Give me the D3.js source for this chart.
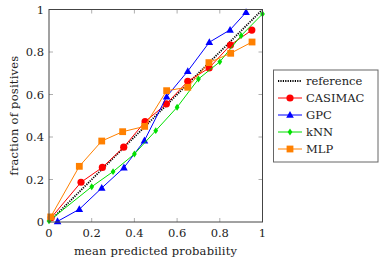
<!DOCTYPE html>
<html>
<head>
<meta charset="utf-8">
<script src="https://cdn.jsdelivr.net/npm/d3@7"></script>
<style>
  body { margin: 0; background: #fff; }
</style>
</head>
<body>
<svg id="chart"></svg>
<script>
// calibration curves
const casimacX = [0.01, 0.15, 0.25, 0.35, 0.45, 0.55, 0.65, 0.75, 0.85, 0.95];
const casimacY = [0.02, 0.187, 0.257, 0.352, 0.472, 0.556, 0.662, 0.725, 0.833, 0.903];
const gpcX = [0.04, 0.142, 0.247, 0.351, 0.447, 0.551, 0.65, 0.751, 0.848, 0.923];
const gpcY = [0.003, 0.06, 0.16, 0.256, 0.383, 0.59, 0.71, 0.846, 0.904, 0.987];
const knnX = [0.0, 0.2, 0.3, 0.4, 0.5, 0.6, 0.7, 0.8, 0.9, 1.0];
const knnY = [0.005, 0.166, 0.237, 0.32, 0.43, 0.54, 0.673, 0.754, 0.877, 0.979];
const mlpX = [0.008, 0.142, 0.247, 0.345, 0.448, 0.551, 0.65, 0.749, 0.851, 0.951];
const mlpY = [0.024, 0.262, 0.381, 0.425, 0.45, 0.618, 0.634, 0.75, 0.794, 0.847];
const refX = [0, 1];
const refY = [0, 1];
const ticks = [0, 0.2, 0.4, 0.6, 0.8, 1];

const series = [
  { name: "CASIMAC", color: "#ff0000", marker: "circle", xs: casimacX, ys: casimacY },
  { name: "GPC", color: "#0000ff", marker: "triangle", xs: gpcX, ys: gpcY },
  { name: "kNN", color: "#00e000", marker: "diamond", xs: knnX, ys: knnY },
  { name: "MLP", color: "#ff8000", marker: "square", xs: mlpX, ys: mlpY }
];

const width = 379, height = 263;
const x = d3.scaleLinear().domain([0, 1]).range([49, 262.5]);
const y = d3.scaleLinear().domain([0, 1]).range([222, 9.5]);

const svg = d3.select("#chart").attr("width", width).attr("height", height)
  .style("font-family", "'DejaVu Serif', 'Liberation Serif', serif");

// inner ticks on all four sides
const tickLen = 4;
const tg = svg.append("g").attr("stroke", "#999").attr("stroke-width", 0.8);
ticks.slice(1, -1).forEach(t => {
  tg.append("line").attr("x1", x(t)).attr("x2", x(t)).attr("y1", y(0)).attr("y2", y(0) - tickLen);
  tg.append("line").attr("x1", x(t)).attr("x2", x(t)).attr("y1", y(1)).attr("y2", y(1) + tickLen);
  tg.append("line").attr("y1", y(t)).attr("y2", y(t)).attr("x1", x(0)).attr("x2", x(0) + tickLen);
  tg.append("line").attr("y1", y(t)).attr("y2", y(t)).attr("x1", x(1)).attr("x2", x(1) - tickLen);
});

// tick labels
const fs = 11.5;
svg.append("g").selectAll("text").data(ticks).join("text")
  .attr("x", d => x(d)).attr("y", y(0) + 15)
  .attr("text-anchor", "middle").attr("font-size", fs).attr("fill", "#222")
  .text(d => d3.format("~g")(d));
svg.append("g").selectAll("text").data(ticks).join("text")
  .attr("x", x(0) - 5).attr("y", d => y(d) + 4)
  .attr("text-anchor", "end").attr("font-size", fs).attr("fill", "#222")
  .text(d => d3.format("~g")(d));

// axis labels
svg.append("text").attr("x", 155.5).attr("y", 255).attr("text-anchor", "middle")
  .attr("font-size", fs).attr("fill", "#222").attr("textLength", 163).text("mean predicted probability");
svg.append("text").attr("transform", `translate(18,${(y(0) + y(1)) / 2}) rotate(-90)`)
  .attr("text-anchor", "middle").attr("font-size", fs).attr("fill", "#222")
  .attr("textLength", 120).text("fraction of positives");

// reference diagonal
const line = d3.line().x(d => x(d[0])).y(d => y(d[1]));
svg.append("path").datum(d3.zip(refX, refY)).attr("d", line)
  .attr("fill", "none").attr("stroke", "#000").attr("stroke-width", 1.8)
  .attr("stroke-dasharray", "1.2,1.2");

function drawMarker(g, type, cx, cy, color) {
  if (type === "circle") {
    g.append("circle").attr("cx", cx).attr("cy", cy).attr("r", 3.6).attr("fill", color);
  } else if (type === "triangle") {
    const r = 4;
    g.append("path").attr("d", `M${cx},${cy - r}L${cx + r * 0.95},${cy + r * 0.7}L${cx - r * 0.95},${cy + r * 0.7}Z`).attr("fill", color);
  } else if (type === "diamond") {
    const r = 3.4;
    g.append("path").attr("d", `M${cx},${cy - r}L${cx + r * 0.7},${cy}L${cx},${cy + r}L${cx - r * 0.7},${cy}Z`).attr("fill", color);
  } else {
    const s = 3.4;
    g.append("rect").attr("x", cx - s).attr("y", cy - s).attr("width", 2 * s).attr("height", 2 * s).attr("fill", color);
  }
}

series.forEach(s => {
  const pts = d3.zip(s.xs, s.ys);
  const g = svg.append("g");
  g.append("path").datum(pts).attr("d", line)
    .attr("fill", "none").attr("stroke", s.color).attr("stroke-width", 1);
  pts.forEach(p => drawMarker(g, s.marker, x(p[0]), y(p[1]), s.color));
});

// frame
svg.append("rect").attr("x", x(0)).attr("y", y(1))
  .attr("width", x(1) - x(0)).attr("height", y(0) - y(1))
  .attr("fill", "none").attr("stroke", "#444").attr("stroke-width", 1);

// legend
const lg = svg.append("g");
lg.append("rect").attr("x", 273.5).attr("y", 70).attr("width", 104.5).attr("height", 92)
  .attr("fill", "#fff").attr("stroke", "#666").attr("stroke-width", 1);
const entries = [{ name: "reference", color: "#000", marker: null }].concat(series);
entries.forEach((e, i) => {
  const ly = 81 + i * 17;
  if (e.marker) {
    lg.append("line").attr("x1", 278).attr("x2", 302).attr("y1", ly).attr("y2", ly)
      .attr("stroke", e.color).attr("stroke-width", 1);
    drawMarker(lg, e.marker, 290, ly, e.color);
  } else {
    lg.append("line").attr("x1", 278).attr("x2", 302).attr("y1", ly).attr("y2", ly)
      .attr("stroke", "#000").attr("stroke-width", 1.8).attr("stroke-dasharray", "1.2,1.2");
  }
  lg.append("text").attr("x", 306).attr("y", ly + 4).attr("font-size", fs).attr("fill", "#222")
    .text(e.name);
});
</script>
</body>
</html>
